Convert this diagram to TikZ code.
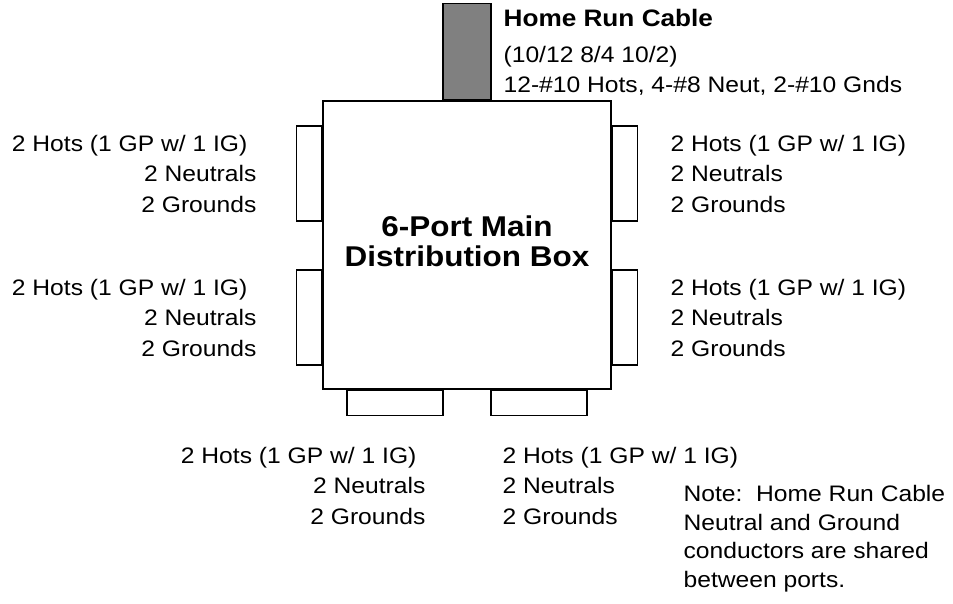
\documentclass[tikz,border=0pt]{standalone}
\usepackage{fontspec}
\setmainfont[FakeStretch=1.1]{Liberation Sans}
\usetikzlibrary{positioning}

\newcommand{\wirelist}[1][]{2 Hots (1 GP w/ 1 IG)#1\\2 Neutrals\\2 Grounds}

\begin{document}
\begin{tikzpicture}[x=1pt, y=-1pt, line width=1.2pt,
    port/.style={draw, fill=white, inner sep=0pt},
    sideport/.style={port, minimum width=25pt, minimum height=95pt},
    lowport/.style={port, minimum width=96pt, minimum height=25pt},
    wires/.style={inner sep=0pt, font=\fontsize{22.4}{30.5}\selectfont}]
    \useasboundingbox (0,0) rectangle (953,603);

    % box and home run
    \node[port, minimum width=288pt, minimum height=288pt] (box) at (467,245) {};
    \node[port, fill=black!50, minimum width=48pt, minimum height=96pt, anchor=south] (cable) at (box.north) {};

    \node[sideport, anchor=north east] (portL1) at ([yshift=-25pt]box.north west) {};
    \node[sideport, anchor=north east] (portL2) at ([yshift=-169pt]box.north west) {};
    \node[sideport, anchor=north west] (portR1) at ([yshift=-25pt]box.north east) {};
    \node[sideport, anchor=north west] (portR2) at ([yshift=-169pt]box.north east) {};
    \node[lowport, anchor=north west] (portB1) at ([xshift=24pt]box.south west) {};
    \node[lowport, anchor=north west] (portB2) at ([xshift=168pt]box.south west) {};

    \node[font=\fontsize{28.6}{30}\selectfont\bfseries, align=center] (title) at (467,241) {6-Port Main\\Distribution Box};

    % labels (base = last line)
    \node[wires, align=right, anchor=base east] (wiresL1) at (257,212) {\wirelist[\hspace*{9pt}]};
    \node[wires, align=right, anchor=base east] (wiresL2) at (257,356) {\wirelist[\hspace*{9pt}]};
    \node[wires, align=left, anchor=base west] (wiresR1) at (670,212) {\wirelist};
    \node[wires, align=left, anchor=base west] (wiresR2) at (670,356) {\wirelist};
    \node[wires, align=right, anchor=base east] (wiresB1) at (426,524) {\wirelist[\hspace*{9pt}]};
    \node[wires, align=left, anchor=base west] (wiresB2) at (502,524) {\wirelist};

    \node[wires, font=\fontsize{22.4}{29.5}\selectfont, align=left, anchor=base west] (cablenote) at (503,92)
        {{\fontsize{23.8}{29.5}\selectfont\bfseries Home Run Cable}\\[6.5pt](10/12 8/4 10/2)\\12-\#10 Hots, 4-\#8 Neut, 2-\#10 Gnds};
    \node[wires, font=\fontsize{22.4}{28.5}\selectfont, align=left, anchor=base west] (note) at (683,587)
        {Note:\ \ Home Run Cable\\Neutral and Ground\\conductors are shared\\between ports.};
\end{tikzpicture}
\end{document}
